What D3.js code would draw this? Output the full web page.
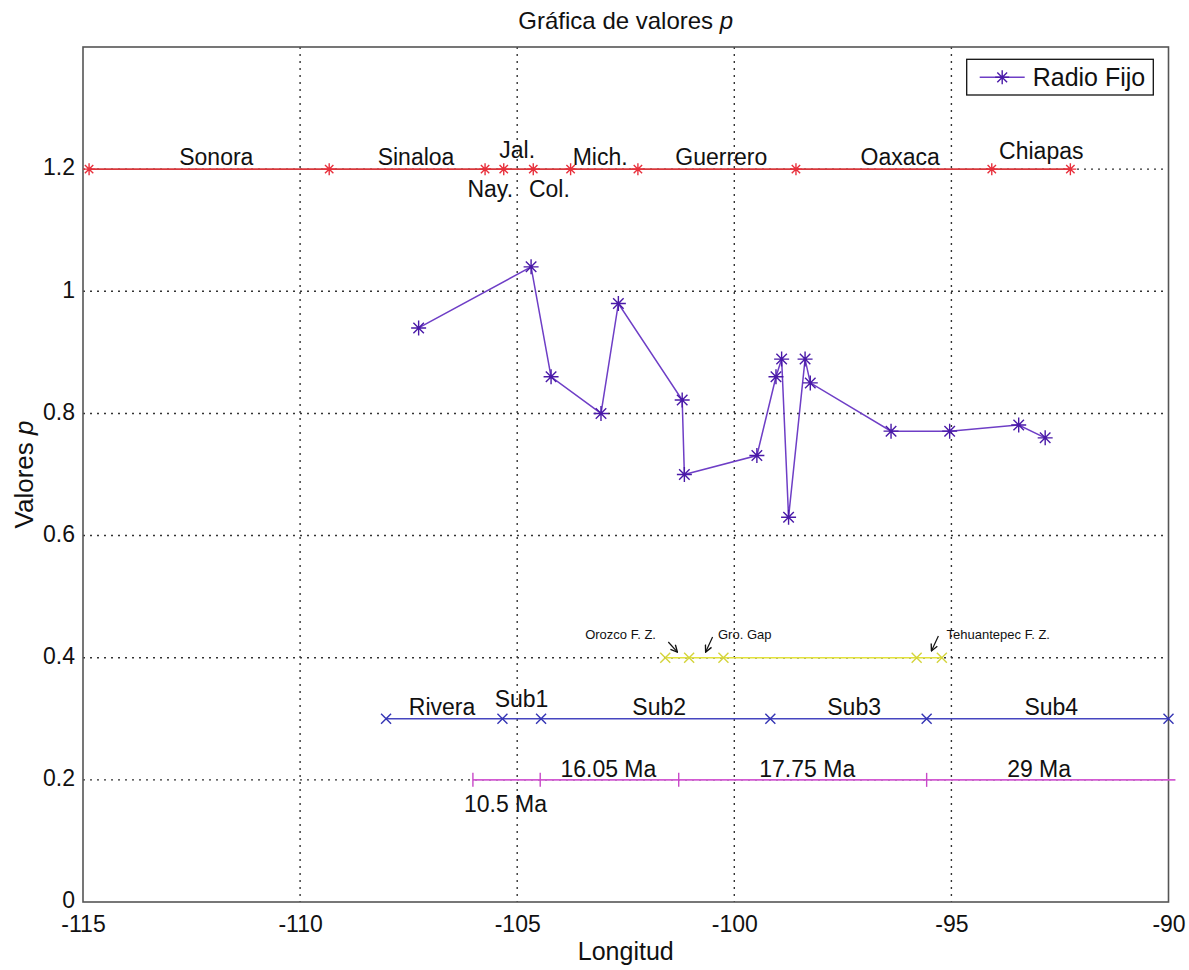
<!DOCTYPE html>
<html>
<head>
<meta charset="utf-8">
<script src="https://cdn.jsdelivr.net/npm/d3@7"></script>
<style>
  body { margin: 0; background: #fff; }
  text { font-family: "Liberation Sans", Arial, Helvetica, sans-serif; fill: #111; }
</style>
</head>
<body>
<div id="chart"></div>
<script>
// Radio Fijo p values along the trench
const fijoLon = [-107.27, -104.68, -104.22, -103.07, -102.67, -101.20, -101.15, -99.48, -99.04, -98.91, -98.75, -98.37, -98.25, -96.39, -95.04, -93.45, -92.84];
const fijoP = [0.94, 1.04, 0.86, 0.80, 0.98, 0.822, 0.70, 0.731, 0.86, 0.889, 0.63, 0.889, 0.85, 0.771, 0.771, 0.781, 0.76];

// state limits (p = 1.2)
const estadoLon = [-114.86, -109.33, -105.74, -105.31, -104.63, -103.77, -102.22, -98.58, -94.07, -92.26];
const estadoNames = ["Sonora", "Sinaloa", "Jal.", "Nay.", "Col.", "Mich.", "Guerrero", "Oaxaca", "Chiapas"];
const estadoLabelLon = [-111.93, -107.33, -105.0, -105.62, -104.26, -103.09, -100.30, -96.18, -92.93];
const estadoLabelP = [1.206, 1.206, 1.218, 1.155, 1.155, 1.206, 1.206, 1.206, 1.217];

// fracture zones (p = 0.4)
const fzLon = [-101.59, -101.04, -100.25, -95.80, -95.22];
const fzNames = ["Orozco F. Z.", "Gro. Gap", "Tehuantepec F. Z."];
const fzLabelLon = [-102.62, -99.76, -93.92];
const fzLabelP = [0.43, 0.43, 0.43];
const fzArrowFrom = [[-101.52, 0.4257], [-100.50, 0.4338], [-95.30, 0.4355]];
const fzArrowTo = [[-101.31, 0.4093], [-100.66, 0.4093], [-95.46, 0.411]];

// subduction segments (p = 0.3)
const segLon = [-108.02, -105.34, -104.45, -99.17, -95.57, -90.0];
const segNames = ["Rivera", "Sub1", "Sub2", "Sub3", "Sub4"];
const segLabelLon = [-106.73, -104.9, -101.73, -97.24, -92.70];
const segLabelP = [0.306, 0.319, 0.306, 0.306, 0.306];

// plate ages (p = 0.2)
const edadLon = [-106.02, -104.47, -101.28, -95.57, -89.84];
const edadNames = ["10.5 Ma", "16.05 Ma", "17.75 Ma", "29 Ma"];
const edadLabelLon = [-105.27, -102.9, -98.32, -92.98];
const edadLabelP = [0.148, 0.205, 0.205, 0.205];

const xTicks = [-115, -110, -105, -100, -95, -90];
const yTicks = [0, 0.2, 0.4, 0.6, 0.8, 1, 1.2];

const margin = { top: 47, right: 20, bottom: 68, left: 83 };
const W = 1189, H = 970;
const width = 1168.5 - margin.left;
const height = 902 - margin.top;

const svg = d3.select("#chart").append("svg")
    .attr("width", W)
    .attr("height", H);

const g = svg.append("g").attr("transform", `translate(${margin.left},${margin.top})`);

const x = d3.scaleLinear().domain([-115, -90]).range([0, width]);
const y = d3.scaleLinear().domain([0, 1.4]).range([height, 0]);

// grid
g.append("g").selectAll("line").data(xTicks.slice(1, -1)).join("line")
    .attr("x1", d => x(d)).attr("x2", d => x(d))
    .attr("y1", 0).attr("y2", height)
    .attr("stroke", "#333").attr("stroke-width", 1.4).attr("stroke-dasharray", "2,5");
g.append("g").selectAll("line").data(yTicks.slice(1)).join("line")
    .attr("x1", 0).attr("x2", width)
    .attr("y1", d => y(d)).attr("y2", d => y(d))
    .attr("stroke", "#333").attr("stroke-width", 1.4).attr("stroke-dasharray", "2,5");

// axes
const xaxis = d3.axisBottom(x).tickValues(xTicks).tickSize(0).tickPadding(14).tickFormat(d => String(d));
const yaxis = d3.axisLeft(y).tickValues(yTicks).tickSize(0).tickPadding(8).tickFormat(d => String(d));
const gx = g.append("g").attr("transform", `translate(0,${height})`).call(xaxis);
const gy = g.append("g").call(yaxis);
[gx, gy].forEach(a => {
    a.select(".domain").remove();
    a.selectAll("text").attr("font-size", 23).attr("fill", "#111")
        .attr("font-family", "Liberation Sans, Arial, sans-serif");
});
gy.selectAll("text").attr("dy", "0.25em");

g.append("rect")
    .attr("x", 0).attr("y", 0).attr("width", width).attr("height", height)
    .attr("fill", "none").attr("stroke", "#555").attr("stroke-width", 1.6);

// marker shapes
function star(s) {
    const k = s * 0.7;
    return (px, py) => `M${px - s},${py}L${px + s},${py}M${px},${py - s}L${px},${py + s}` +
        `M${px - k},${py - k}L${px + k},${py + k}M${px - k},${py + k}L${px + k},${py - k}`;
}
function cross(s) {
    return (px, py) => `M${px - s},${py - s}L${px + s},${py + s}M${px - s},${py + s}L${px + s},${py - s}`;
}
function vbar(s) {
    return (px, py) => `M${px},${py - s}L${px},${py + s}`;
}

const line = d3.line().x(d => x(d[0])).y(d => y(d[1]));

function series(lons, vals, color, mcolor, shape, lw) {
    const pts = lons.map((d, i) => [d, vals[i]]);
    g.append("path").datum(pts)
        .attr("d", line)
        .attr("fill", "none").attr("stroke", color).attr("stroke-width", lw);
    // markers outside the axes are clipped
    g.append("g").selectAll("path").data(pts.filter(d => d[0] <= -89.99)).join("path")
        .attr("d", d => shape(x(d[0]), y(d[1])))
        .attr("stroke", mcolor).attr("stroke-width", 1.4).attr("fill", "none");
}

function labels(names, lons, vals, size) {
    g.append("g").selectAll("text").data(names).join("text")
        .attr("x", (d, i) => x(lons[i]))
        .attr("y", (d, i) => y(vals[i]))
        .attr("text-anchor", "middle")
        .attr("font-size", size)
        .text(d => d);
}

series(estadoLon, estadoLon.map(() => 1.2), "#d8383c", "#e8303c", star(6), 1.6);
series(fzLon, fzLon.map(() => 0.4), "#e2e23a", "#d4d43c", cross(5), 1.6);
series(segLon, segLon.map(() => 0.3), "#4646c0", "#3434b4", cross(5), 1.6);
series(edadLon, edadLon.map(() => 0.2), "#d25ad2", "#c848c8", vbar(7), 1.6);
series(fijoLon, fijoP, "#6e3ec6", "#4a1aa8", star(7.5), 1.5);

labels(estadoNames, estadoLabelLon, estadoLabelP, 23);
labels(segNames, segLabelLon, segLabelP, 23);
labels(edadNames, edadLabelLon, edadLabelP, 23);
labels(fzNames, fzLabelLon, fzLabelP, 13);

// arrows for fracture zones
svg.append("defs").append("marker")
    .attr("id", "ah").attr("viewBox", "0 0 10 10").attr("refX", 9).attr("refY", 5)
    .attr("markerWidth", 7).attr("markerHeight", 7).attr("orient", "auto")
    .append("path").attr("d", "M1,1L9,5L1,9").attr("fill", "none").attr("stroke", "#111").attr("stroke-width", 1.6);
g.append("g").selectAll("line").data(fzArrowFrom).join("line")
    .attr("x1", d => x(d[0])).attr("y1", d => y(d[1]))
    .attr("x2", (d, i) => x(fzArrowTo[i][0])).attr("y2", (d, i) => y(fzArrowTo[i][1]))
    .attr("stroke", "#111").attr("stroke-width", 1.2)
    .attr("marker-end", "url(#ah)");

// legend
const leg = g.append("g").attr("transform", `translate(${966.7 - margin.left},${59.3 - margin.top})`);
leg.append("rect").attr("width", 186.6).attr("height", 35.7)
    .attr("fill", "#fff").attr("stroke", "#111").attr("stroke-width", 1.3);
leg.append("line").attr("x1", 13).attr("x2", 58).attr("y1", 18).attr("y2", 18)
    .attr("stroke", "#6e3ec6").attr("stroke-width", 1.5);
leg.append("path").attr("d", star(7)(35.5, 18)).attr("stroke", "#4a1aa8").attr("stroke-width", 1.4);
leg.append("text").attr("x", 66).attr("y", 27).attr("font-size", 25).text("Radio Fijo");

// title and axis labels
const title = svg.append("text")
    .attr("x", margin.left + width / 2).attr("y", 29)
    .attr("text-anchor", "middle").attr("font-size", 24);
title.append("tspan").text("Gráfica de valores ");
title.append("tspan").attr("font-style", "italic").text("p");

svg.append("text")
    .attr("x", margin.left + width / 2).attr("y", 960)
    .attr("text-anchor", "middle").attr("font-size", 25)
    .text("Longitud");

const ylab = svg.append("text")
    .attr("transform", `translate(33,${margin.top + height / 2}) rotate(-90)`)
    .attr("text-anchor", "middle").attr("font-size", 26);
ylab.append("tspan").text("Valores ");
ylab.append("tspan").attr("font-style", "italic").text("p");
</script>
</body>
</html>
